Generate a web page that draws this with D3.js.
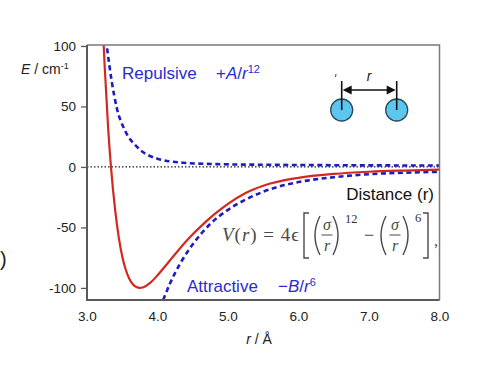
<!DOCTYPE html>
<html><head><meta charset="utf-8">
<script src="https://cdn.jsdelivr.net/npm/d3@7"></script>
<style>
html,body{margin:0;padding:0;background:#fff;}
svg{display:block;}
</style></head>
<body><svg id="c" width="490" height="365"></svg>
<script>
// ---- data ----
const xTicks = [3.0, 4.0, 5.0, 6.0, 7.0, 8.0];
const yTicks = [100, 50, 0, -50, -100];
// total potential (red, solid)
const totalR = [3.22, 3.25, 3.30, 3.34, 3.40, 3.45, 3.50, 3.55, 3.60, 3.65, 3.70, 3.75, 3.80, 3.90, 4.00, 4.10, 4.20, 4.30, 4.40, 4.50, 4.60, 4.80, 5.00, 5.25, 5.50, 6.00, 6.50, 7.00, 7.50, 8.00];
const totalE = [122, 84, 32, 0, -36, -58, -74, -85, -92.4, -97, -99.3, -100, -99.4, -95.6, -89.6, -82.7, -75.6, -68.6, -61.9, -55.7, -50, -39.5, -30.5, -21.5, -15.5, -9, -5.8, -4, -3, -2.3];
// repulsive term (blue dashed, upper)
const repR = [3.285, 3.35, 3.42, 3.54, 3.71, 3.99, 4.36, 4.84, 5.5, 6.0, 7.0, 8.0];
const repE = [98, 71, 49.4, 30, 16.5, 7, 3.5, 2.3, 1.8, 1.6, 1.3, 1.2];
// attractive term (blue dashed, lower)
const attR = [4.08, 4.18, 4.32, 4.50, 4.75, 5.00, 5.25, 5.50, 6.00, 6.50, 7.00, 7.50, 8.00];
const attE = [-110, -96, -80, -64, -47, -35.5, -27, -20.5, -12.5, -8.5, -6, -4.8, -4];

// ---- layout ----
const svg = d3.select("#c");
const L = 87, R = 439.5, T = 45, B = 300;
const x = d3.scaleLinear().domain([3, 8]).range([L, R]);
const y = d3.scaleLinear().domain([-110, 100.8]).range([B, T]);
const sans = "'Liberation Sans', Arial, Helvetica, sans-serif";
const serif = "'Liberation Serif', 'DejaVu Serif', serif";
const blueText = "#2b2bd2", blueLine = "#1c1cc0", red = "#d3281f", frame = "#5a5a5a";

svg.append("defs").append("clipPath").attr("id", "clip")
  .append("rect").attr("x", L).attr("y", T).attr("width", R - L).attr("height", B - T);

// zero dotted line
svg.append("line").attr("x1", L).attr("x2", R).attr("y1", y(0)).attr("y2", y(0))
  .attr("stroke", "#222").attr("stroke-width", 1.2).attr("stroke-dasharray", "1.5,2");

const line = d3.line().x(d => x(d[0])).y(d => y(d[1])).curve(d3.curveMonotoneX);
const g = svg.append("g").attr("clip-path", "url(#clip)");
g.append("path").datum(d3.zip(repR, repE)).attr("d", line)
  .attr("fill", "none").attr("stroke", blueLine).attr("stroke-width", 2.6).attr("stroke-dasharray", "5,3.5");
g.append("path").datum(d3.zip(attR, attE)).attr("d", line)
  .attr("fill", "none").attr("stroke", blueLine).attr("stroke-width", 2.6).attr("stroke-dasharray", "5,3.5");
g.append("path").datum(d3.zip(totalR, totalE)).attr("d", line)
  .attr("fill", "none").attr("stroke", red).attr("stroke-width", 2.2);

// frame
svg.append("path").attr("d", `M${L},${T}H${R}V${B}`).attr("fill", "none")
  .attr("stroke", "#7a7a7a").attr("stroke-width", 1.5);
svg.append("path").attr("d", `M${L},${T}V${B}H${R}`).attr("fill", "none")
  .attr("stroke", frame).attr("stroke-width", 2);

// y axis
const ya = svg.append("g").attr("transform", `translate(${L},0)`)
  .call(d3.axisLeft(y).tickValues(yTicks).tickSize(6).tickPadding(5).tickFormat(d => String(d)));
ya.select(".domain").remove();
ya.selectAll("line").attr("stroke", frame).attr("stroke-width", 1.3);
ya.selectAll("text").attr("font-family", sans).attr("font-size", 13.5).attr("fill", "#222");

// x axis
const xa = svg.append("g").attr("transform", `translate(0,${B})`)
  .call(d3.axisBottom(x).tickValues(xTicks).tickSize(0).tickPadding(11).tickFormat(d => d.toFixed(1)));
xa.select(".domain").remove();
xa.selectAll("text").attr("font-family", sans).attr("font-size", 13.5).attr("fill", "#222");

// axis titles
const yt = svg.append("text").attr("x", 21).attr("y", 74).attr("font-family", sans).attr("font-size", 14).attr("fill", "#222");
yt.append("tspan").attr("font-style", "italic").text("E");
yt.append("tspan").text(" / cm");
yt.append("tspan").attr("font-size", 9).attr("dy", -5).text("-1");

const xt = svg.append("text").attr("x", 259).attr("y", 344).attr("text-anchor", "middle")
  .attr("font-family", sans).attr("font-size", 14).attr("fill", "#222");
xt.append("tspan").attr("font-style", "italic").text("r");
xt.append("tspan").text(" / Å");

svg.append("text").attr("x", 0).attr("y", 266).attr("font-family", sans).attr("font-size", 20).attr("fill", "#222").text(")");

// labels
svg.append("text").attr("x", 122).attr("y", 79).attr("font-family", sans).attr("font-size", 17).attr("fill", blueText).text("Repulsive");
const rl = svg.append("text").attr("x", 216).attr("y", 79).attr("font-family", sans).attr("font-size", 17).attr("fill", blueText);
rl.append("tspan").text("+");
rl.append("tspan").attr("font-style", "italic").text("A");
rl.append("tspan").text("/");
rl.append("tspan").attr("font-style", "italic").text("r");
rl.append("tspan").attr("font-size", 11).attr("dy", -6).text("12");

svg.append("text").attr("x", 187).attr("y", 292).attr("font-family", sans).attr("font-size", 17).attr("fill", blueText).text("Attractive");
const al = svg.append("text").attr("x", 278).attr("y", 292).attr("font-family", sans).attr("font-size", 17).attr("fill", blueText);
al.append("tspan").text("\u2212");
al.append("tspan").attr("font-style", "italic").text("B");
al.append("tspan").text("/");
al.append("tspan").attr("font-style", "italic").text("r");
al.append("tspan").attr("font-size", 11).attr("dy", -6).text("6");

svg.append("text").attr("x", 434).attr("y", 200).attr("text-anchor", "end").attr("font-family", sans).attr("font-size", 17).attr("fill", "#111").text("Distance (r)");

// formula
const fc = "#4a4a4a";
const f1 = svg.append("text").attr("x", 222).attr("y", 241).attr("font-family", serif).attr("font-size", 19).attr("fill", fc)
  .attr("textLength", 77).attr("lengthAdjust", "spacing");
f1.append("tspan").attr("font-style", "italic").text("V");
f1.append("tspan").text("(");
f1.append("tspan").attr("font-style", "italic").text("r");
f1.append("tspan").text(") = 4\u03F5");
const fp = (d) => svg.append("path").attr("d", d).attr("fill", "none").attr("stroke", fc).attr("stroke-width", 1.4);
fp("M309,213H304V258H309");
fp("M423,213H428V258H423");
fp("M320,216Q310,235.5 320,255");
fp("M333,216Q343,235.5 333,255");
fp("M386,216Q376,235.5 386,255");
fp("M403,216Q413,235.5 403,255");
const frac = (cx) => {
  svg.append("text").attr("x", cx).attr("y", 230).attr("text-anchor", "middle").attr("font-family", serif)
    .attr("font-size", 16).attr("font-style", "italic").attr("fill", fc).text("\u03C3");
  svg.append("line").attr("x1", cx - 5.5).attr("x2", cx + 5.5).attr("y1", 235).attr("y2", 235).attr("stroke", fc).attr("stroke-width", 1);
  svg.append("text").attr("x", cx).attr("y", 251).attr("text-anchor", "middle").attr("font-family", serif)
    .attr("font-size", 16).attr("font-style", "italic").attr("fill", fc).text("r");
};
frac(327); frac(395);
svg.append("text").attr("x", 345).attr("y", 223).attr("font-family", serif).attr("font-size", 12.5).attr("fill", "#333").text("12");
svg.append("text").attr("x", 415).attr("y", 222).attr("font-family", serif).attr("font-size", 12.5).attr("fill", "#333").text("6");
svg.append("text").attr("x", 369).attr("y", 241).attr("text-anchor", "middle").attr("font-family", serif).attr("font-size", 18).attr("fill", fc).text("\u2212");
svg.append("text").attr("x", 434).attr("y", 246).attr("font-family", serif).attr("font-size", 16).attr("fill", fc).text(",");

// molecule diagram
const m1 = 341.7, m2 = 396.7, my = 110;
[m1, m2].forEach(cx => {
  svg.append("circle").attr("cx", cx).attr("cy", my).attr("r", 11).attr("fill", "#5cc6ee").attr("stroke", "#2a4a5a").attr("stroke-width", 1.3);
  svg.append("line").attr("x1", cx).attr("x2", cx).attr("y1", 81).attr("y2", my).attr("stroke", "#111").attr("stroke-width", 1.6);
});
svg.append("line").attr("x1", m1 + 6).attr("x2", m2 - 6).attr("y1", 90).attr("y2", 90).attr("stroke", "#111").attr("stroke-width", 1.6);
svg.append("path").attr("d", `M${m1 + 1},90L${m1 + 10},85.5L${m1 + 10},94.5Z`).attr("fill", "#111");
svg.append("path").attr("d", `M${m2 - 1},90L${m2 - 10},85.5L${m2 - 10},94.5Z`).attr("fill", "#111");
svg.append("text").attr("x", 369).attr("y", 81).attr("text-anchor", "middle").attr("font-family", sans).attr("font-size", 14)
  .attr("font-style", "italic").attr("fill", "#222").text("r");
svg.append("line").attr("x1", 336).attr("x2", 335.5).attr("y1", 74).attr("y2", 77).attr("stroke", "#444").attr("stroke-width", 1);
</script></body></html>
